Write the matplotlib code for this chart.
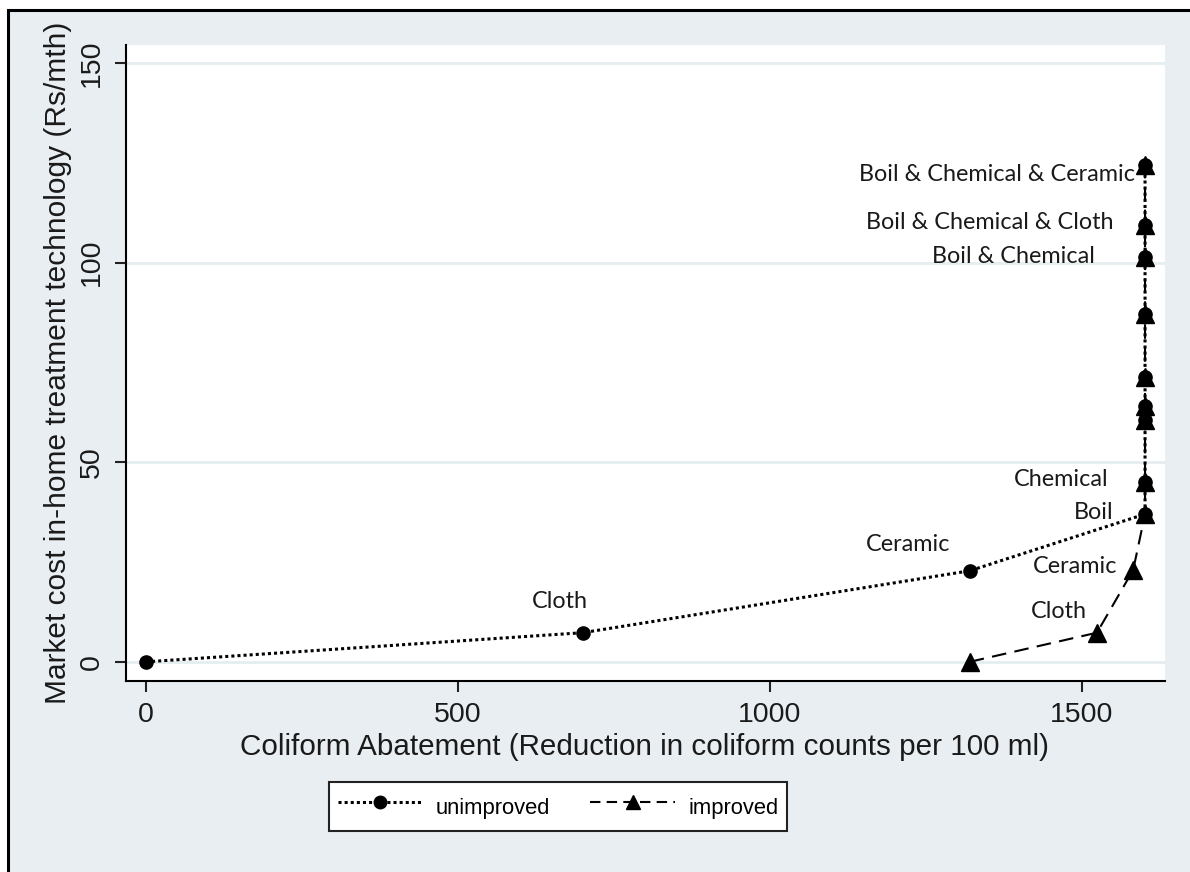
import matplotlib
matplotlib.use("Agg")
import matplotlib.pyplot as plt
from matplotlib.lines import Line2D
from matplotlib import font_manager

plt.rcParams["font.family"] = ["Liberation Sans", "DejaVu Sans"]

# ---- data ----
unimp_x = [0, 700, 1320, 1601, 1601, 1601, 1601, 1601, 1601, 1601, 1601, 1601]
unimp_y = [0, 7.3, 22.8, 37, 45, 60.6, 64, 71.4, 87, 101.4, 109.4, 124.5]
imp_x = [1320, 1524, 1582, 1601, 1601, 1601, 1601, 1601, 1601, 1601, 1601, 1601]
imp_y = [0, 7.3, 23, 37, 45, 60.6, 64, 71.4, 87, 101.4, 109.4, 124.5]

# labels: (text, series, index, dx_px, dy_px, ha)
point_labels = [
    ("Cloth", "unimp", 1, -23, 31, "center"),
    ("Ceramic", "unimp", 2, -62, 26, "center"),
    ("Cloth", "imp", 1, -10, 21, "right"),
    ("Ceramic", "imp", 2, -16, 4, "right"),
    ("Boil", "imp", 3, -32, 2, "right"),
    ("Chemical", "imp", 4, -37, 3, "right"),
    ("Boil & Chemical", "imp", 9, -50, 1, "right"),
    ("Boil & Chemical & Cloth", "imp", 10, -32, 3, "right"),
    ("Boil & Chemical & Ceramic", "imp", 11, -10, -10, "right"),
]
x_ticks = [0, 500, 1000, 1500]
y_ticks = [0, 50, 100, 150]
series_names = ["unimproved", "improved"]

BG = "#e8eef1"
GRID = "#e5eeef"

W, H = 1190, 872
fig = plt.figure(figsize=(W / 100, H / 100), dpi=100)
fig.patch.set_facecolor("white")

# outer grey panel with black frame (left & top visible)
panel = plt.Rectangle((8 / W, -0.2), 1.3, 1.2 - 10 / H, transform=fig.transFigure,
                      facecolor=BG, edgecolor="black", linewidth=2.2, zorder=-5)
fig.patches.append(panel)

left, right, top, bottom = 126, 1165, 45, 681
ax = fig.add_axes([left / W, 1 - bottom / H, (right - left) / W, (bottom - top) / H])
ax.set_zorder(1)
ax.set_facecolor("white")
ax.set_xlim(-32, 1633)
ax.set_ylim(-4.8, 154.5)

for yv in y_ticks:
    ax.axhline(yv, color=GRID, lw=2, zorder=0.5)

ax.plot(unimp_x, unimp_y, color="black", lw=2.2, linestyle=(0, (1, 1)),
        marker="o", markersize=9.5, zorder=3)
ax.plot(imp_x, imp_y, color="black", lw=1.5, linestyle=(0, (7, 4)),
        marker="^", markersize=12.5, zorder=4)

for spine in ["top", "right"]:
    ax.spines[spine].set_visible(False)
ax.spines["left"].set_linewidth(1.5)
ax.spines["bottom"].set_linewidth(1.5)

ax.set_xticks(x_ticks)
ax.set_yticks(y_ticks)
ax.tick_params(axis="both", length=8, width=1.5, color="#222222", labelsize=20.5,
               labelcolor="#1a1a1a")
for lab in ax.get_yticklabels():
    lab.set_rotation(90)
    lab.set_va("center")
ax.tick_params(axis="y", pad=7)
ax.tick_params(axis="x", pad=7)

lab_font = ["Lato", "DejaVu Sans"]
for text, ser, idx, dx, dy, ha in point_labels:
    xs, ys = (unimp_x, unimp_y) if ser == "unimp" else (imp_x, imp_y)
    ax.annotate(text, (xs[idx], ys[idx]), xytext=(dx * 0.72, dy * 0.72),
                textcoords="offset points", ha=ha, va="center",
                fontsize=16.8, family=lab_font, color="#1a1a1a", zorder=5)

fig.text(645 / W, 1 - 755 / H,
         "Coliform Abatement (Reduction in coliform counts per 100 ml)",
         ha="center", va="baseline", fontsize=21.3, color="#1a1a1a")
fig.text(58 / W, 1 - 363 / H,
         "Market cost in-home treatment technology (Rs/mth)",
         ha="center", va="center", rotation=90, fontsize=21.5, color="#1a1a1a")

# legend (Stata style)
leg_size = 15.8
handles = [
    Line2D([], [], color="black", lw=2.2, linestyle=(0, (1, 1)), marker="o", markersize=9),
    Line2D([], [], color="black", lw=1.5, linestyle=(0, (5, 3)), marker="^", markersize=10.5),
]
px_per_em = leg_size / 0.72
leg = fig.legend(handles, series_names, loc="center",
                 bbox_to_anchor=(558 / W, 1 - 806.5 / H), ncol=2,
                 prop={"family": "Liberation Sans", "size": leg_size},
                 frameon=True, fancybox=False, edgecolor="#222222", framealpha=1,
                 handlelength=85 / px_per_em, columnspacing=40 / px_per_em,
                 handleheight=1.85, borderpad=0.38, numpoints=1,
                 handletextpad=13 / px_per_em)
leg.get_frame().set_linewidth(1.5)
leg.get_frame().set_facecolor("white")

fig.savefig("out.png", dpi=100)
